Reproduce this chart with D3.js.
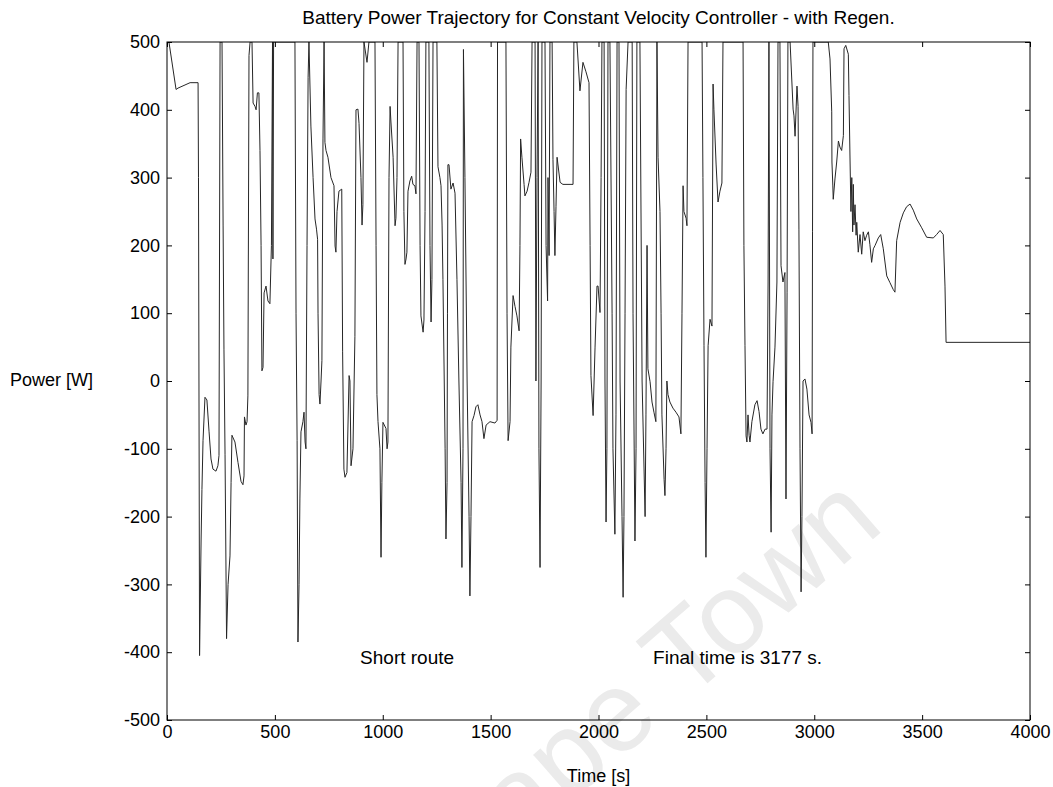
<!DOCTYPE html>
<html>
<head>
<meta charset="utf-8">
<script src="https://cdn.jsdelivr.net/npm/d3@7"></script>
<style>
  body { margin: 0; background: #fff; }
  text { font-family: Arial, "Liberation Sans", Helvetica, sans-serif; }
</style>
</head>
<body>
<div id="chart"></div>
<script>

// time samples [s]
var time = [
    0, 9, 42, 51, 107, 144, 146, 151, 158, 162, 167, 176, 185, 195, 204, 213, 227, 236, 241, 246,
    255, 260, 264, 269, 276, 283, 292, 297, 301, 315, 329, 343, 352, 357, 359, 366, 371, 375, 380, 385,
    394, 399, 408, 413, 419, 426, 431, 436, 440, 445, 450, 459, 468, 477, 484, 489, 491, 494, 593, 598,
    603, 607, 612, 616, 621, 630, 635, 640, 644, 649, 654, 658, 667, 677, 686, 693, 698, 700, 705, 709,
    714, 718, 723, 728, 732, 737, 746, 760, 774, 779, 783, 788, 797, 810, 814, 820, 825, 834, 844, 848,
    853, 862, 871, 876, 885, 890, 899, 904, 908, 913, 927, 936, 964, 969, 973, 978, 987, 992, 996, 1001,
    1015, 1020, 1024, 1029, 1034, 1038, 1048, 1057, 1061, 1066, 1071, 1094, 1098, 1103, 1108, 1112, 1117, 1126, 1134, 1140,
    1149, 1154, 1159, 1168, 1173, 1177, 1187, 1191, 1196, 1200, 1214, 1219, 1224, 1228, 1233, 1251, 1256, 1265, 1270, 1275,
    1279, 1289, 1293, 1298, 1300, 1302, 1307, 1316, 1326, 1335, 1344, 1353, 1363, 1367, 1372, 1374, 1381, 1391, 1400, 1404,
    1409, 1414, 1423, 1432, 1441, 1451, 1460, 1469, 1479, 1497, 1520, 1530, 1532, 1571, 1576, 1581, 1590, 1594, 1604, 1613,
    1622, 1632, 1636, 1639, 1645, 1655, 1659, 1669, 1678, 1687, 1692, 1706, 1710, 1715, 1720, 1724, 1729, 1734, 1738, 1752,
    1757, 1764, 1766, 1771, 1775, 1785, 1789, 1794, 1798, 1803, 1808, 1822, 1835, 1868, 1882, 1886, 1900, 1914, 1928, 1942,
    1956, 1961, 1965, 1975, 1984, 1993, 1998, 2007, 2012, 2016, 2026, 2030, 2035, 2039, 2044, 2053, 2063, 2067, 2076, 2081,
    2086, 2095, 2100, 2109, 2114, 2118, 2123, 2128, 2137, 2156, 2160, 2169, 2174, 2178, 2192, 2202, 2216, 2220, 2225, 2229,
    2239, 2248, 2257, 2266, 2271, 2276, 2285, 2290, 2294, 2304, 2308, 2313, 2317, 2322, 2331, 2345, 2359, 2373, 2382, 2387,
    2392, 2396, 2406, 2410, 2415, 2480, 2484, 2489, 2494, 2498, 2503, 2508, 2517, 2526, 2531, 2535, 2545, 2554, 2563, 2572,
    2577, 2670, 2674, 2679, 2684, 2688, 2693, 2698, 2702, 2711, 2725, 2735, 2744, 2753, 2762, 2772, 2781, 2786, 2790, 2795,
    2800, 2804, 2809, 2818, 2827, 2832, 2841, 2846, 2855, 2864, 2869, 2874, 2878, 2888, 2902, 2906, 2911, 2920, 2925, 2929,
    2934, 2939, 2943, 2948, 2957, 2966, 2976, 2985, 2990, 2992, 2994, 3065, 3073, 3081, 3082, 3086, 3088, 3096, 3104, 3112,
    3119, 3127, 3135, 3138, 3146, 3158, 3161, 3166, 3170, 3174, 3178, 3181, 3184, 3189, 3194, 3197, 3204, 3212, 3220, 3227,
    3235, 3243, 3251, 3258, 3266, 3274, 3282, 3297, 3308, 3320, 3336, 3351, 3366, 3374, 3382, 3398, 3413, 3428, 3444, 3459,
    3475, 3498, 3521, 3552, 3567, 3583, 3598, 3606, 3611, 4000
];

// battery power [W] at those samples (clipped at the 500 W axis limit)
var power = [
    500, 500, 430, 432, 440, 440, 300, -405, -236, -160, -88, -24, -28, -75, -115, -130, -133, -125, -110, 500,
    500, 230, 47, -108, -380, -300, -258, -150, -80, -90, -120, -148, -153, -140, -53, -65, -60, -22, 480, 500,
    500, 410, 405, 400, 425, 425, 340, 200, 15, 20, 130, 140, 118, 114, 200, 500, 180, 500, 500, 100,
    -88, -385, -300, -174, -75, -60, -46, -90, -100, 200, 448, 500, 376, 300, 239, 224, 209, 100, -20, -34,
    0, 30, 357, 500, 352, 340, 330, 300, 288, 199, 190, 250, 280, 283, 43, -130, -142, -135, 8, 0,
    -125, -100, 66, 400, 401, 380, 300, 230, 260, 500, 470, 500, 500, 200, -20, -60, -100, -260, -150, -61,
    -70, -100, -90, 300, 405, 382, 330, 229, 240, 300, 500, 500, 250, 172, 180, 190, 280, 295, 302, 290,
    288, 276, 500, 500, 200, 96, 72, 90, 250, 500, 500, 200, 87, 150, 500, 500, 316, 300, 288, 230,
    150, -100, -233, -150, 100, 319, 319, 283, 292, 277, 150, 0, -150, -275, -100, 489, 300, 0, -200, -317,
    -200, -60, -51, -38, -35, -50, -60, -85, -65, -60, -62, -58, 500, 500, 100, -88, -60, 50, 126, 110,
    96, 74, 200, 357, 330, 290, 273, 280, 293, 308, 500, 500, 0, 300, 500, -100, -275, 0, 500, 500,
    200, 118, 300, 185, 500, 500, 327, 250, 185, 257, 330, 293, 290, 290, 290, 500, 500, 428, 470, 456,
    440, 200, 8, -51, 50, 140, 140, 101, 300, 500, 500, 0, -208, -100, 500, 500, 100, -100, -226, -50,
    500, 500, 0, -200, -319, -200, 100, 430, 500, 500, 100, -236, -100, 500, 500, 0, -200, -50, 200, 18,
    -1, -31, -46, -60, 500, 330, 250, 100, -50, -145, -169, -100, 0, -20, -31, -40, -46, -53, -78, 100,
    288, 250, 240, 229, 500, 500, 300, 52, -150, -260, -100, 52, 91, 81, 438, 400, 320, 264, 280, 292,
    500, 500, 200, 52, -81, -90, -50, -80, -90, -60, -35, -29, -45, -71, -78, -71, -71, 146, 500, -100,
    -223, -50, -1, 50, 146, 500, 500, 170, 146, 160, -174, 131, 500, 500, 401, 391, 361, 435, 405, 224,
    -100, -311, -200, 0, 3, -12, -50, -61, -78, 220, 500, 500, 475, 397, 323, 289, 268, 298, 323, 354,
    345, 340, 362, 490, 495, 482, 421, 323, 250, 300, 220, 290, 230, 260, 215, 234, 190, 216, 187, 220,
    207, 215, 220, 201, 175, 195, 200, 211, 216, 195, 155, 145, 135, 131, 207, 234, 248, 257, 261, 252,
    239, 226, 212, 211, 216, 222, 216, 140, 57, 57
];

var xTicks = [ 0, 500, 1000, 1500, 2000, 2500, 3000, 3500, 4000 ];
var yTicks = [ 500, 400, 300, 200, 100, 0, -100, -200, -300, -400, -500 ];

var notes = [
    { t: 895, p: -418, label: 'Short route' },
    { t: 2253, p: -418, label: 'Final time is 3177 s.' }
];

var width = 1053,
    height = 787,
    margin = { top: 42, right: 23, bottom: 67, left: 167 };

var innerW = width - margin.left - margin.right,
    innerH = height - margin.top - margin.bottom;

var svg = d3.select('#chart').append('svg')
    .attr('width', width)
    .attr('height', height)
    .style('background', '#fff');

// faint watermark behind the plot
svg.append('text')
    .attr('transform', 'translate(886,528) rotate(-41)')
    .attr('text-anchor', 'end')
    .style('font-size', '114px')
    .style('fill', '#ebebeb')
    .text('Cape Town');

var g = svg.append('g')
    .attr('transform', 'translate(' + margin.left + ',' + margin.top + ')');

var x = d3.scaleLinear().domain([ 0, 4000 ]).range([ 0, innerW ]);
var y = d3.scaleLinear().domain([ -500, 500 ]).range([ innerH, 0 ]);

g.append('clipPath').attr('id', 'clip')
    .append('rect').attr('width', innerW).attr('height', innerH);

var line = d3.line()
    .x(function (d, i) { return x(time[i]); })
    .y(function (d) { return y(d); });

g.append('path')
    .datum(power)
    .attr('clip-path', 'url(#clip)')
    .attr('d', line)
    .style('fill', 'none')
    .style('stroke', '#262626')
    .style('stroke-width', 1);

var plain = function (d) { return String(d); };

// axes, MATLAB style: ticks pointing inward on all four sides
function styleAxis ( sel, labels ) {
    sel.select('.domain').remove();
    sel.selectAll('line').style('stroke', '#000');
    sel.selectAll('text')
        .style('font-size', '18px')
        .style('fill', '#000');
    if ( !labels ) sel.selectAll('text').remove();
}

g.append('g')
    .attr('transform', 'translate(0,' + innerH + ')')
    .call(d3.axisBottom(x).tickValues(xTicks).tickFormat(plain).tickSizeInner(-5).tickSizeOuter(0).tickPadding(5))
    .call(styleAxis, true);

g.append('g')
    .call(d3.axisTop(x).tickValues(xTicks).tickSizeInner(-5).tickSizeOuter(0))
    .call(styleAxis, false);

g.append('g')
    .call(d3.axisLeft(y).tickValues(yTicks).tickFormat(plain).tickSizeInner(-5).tickSizeOuter(0).tickPadding(7))
    .call(styleAxis, true);

g.append('g')
    .attr('transform', 'translate(' + innerW + ',0)')
    .call(d3.axisRight(y).tickValues(yTicks).tickSizeInner(-5).tickSizeOuter(0))
    .call(styleAxis, false);

g.append('rect')
    .attr('width', innerW)
    .attr('height', innerH)
    .style('fill', 'none')
    .style('stroke', '#000')
    .style('stroke-width', 1);

g.selectAll('.note')
    .data(notes)
    .enter().append('text')
    .attr('class', 'note')
    .attr('x', function (d) { return x(d.t); })
    .attr('y', function (d) { return y(d.p); })
    .style('font-size', '19px')
    .text(function (d) { return d.label; });

svg.append('text')
    .attr('x', margin.left + innerW / 2)
    .attr('y', 24)
    .attr('text-anchor', 'middle')
    .style('font-size', '19px')
    .text('Battery Power Trajectory for Constant Velocity Controller - with Regen.');

svg.append('text')
    .attr('x', margin.left + innerW / 2)
    .attr('y', 782)
    .attr('text-anchor', 'middle')
    .style('font-size', '18px')
    .text('Time [s]');

svg.append('text')
    .attr('x', 10)
    .attr('y', 386)
    .style('font-size', '18px')
    .text('Power [W]');

</script>
</body>
</html>
